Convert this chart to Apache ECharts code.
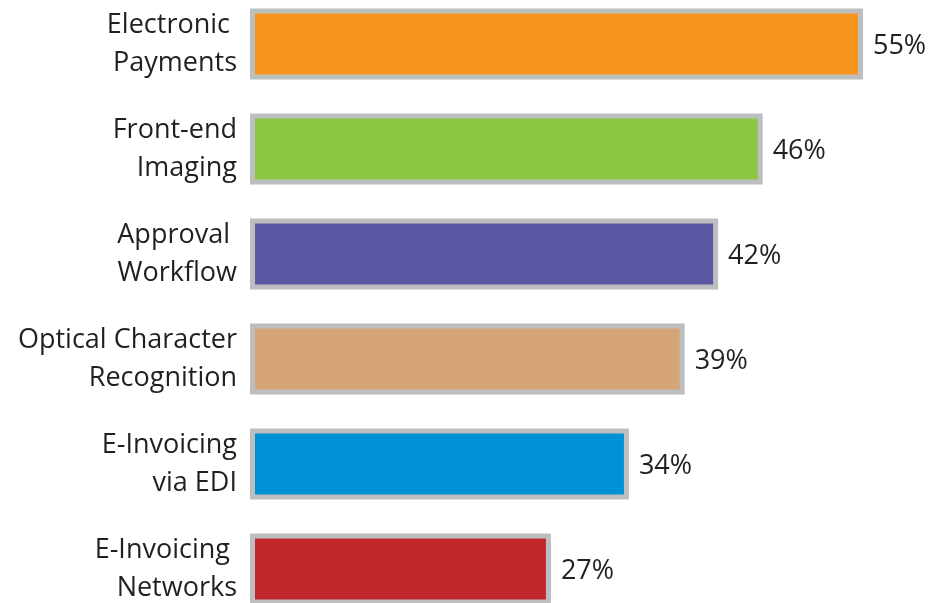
<!DOCTYPE html>
<html><head><meta charset="utf-8">
<script src="https://cdn.jsdelivr.net/npm/echarts@6/dist/echarts.min.js"></script>
<style>html,body{margin:0;padding:0;background:#fff}#c{width:934px;height:603px}</style>
</head><body><div id="c"></div>
<script>
const categories = ["Electronic \nPayments", "Front-end\nImaging", "Approval \nWorkflow", "Optical Character\nRecognition", "E-Invoicing\nvia EDI", "E-Invoicing \nNetworks"];
const values = [55, 46, 42, 39, 34, 27];
const colors = ["#f7941d", "#8dc63f", "#5b56a1", "#d5a577", "#0090d6", "#c1272d"];

const chart = echarts.init(document.getElementById('c'));
chart.setOption({
  backgroundColor: '#ffffff',
  animation: false,
  grid: { left: 250, top: -8.5, height: 630, width: 668.7, outerBoundsMode: 'none', containLabel: false },
  xAxis: { type: 'value', min: 0, max: 60, show: false },
  yAxis: {
    type: 'category', data: categories, inverse: true,
    axisLine: { show: false }, axisTick: { show: false },
    axisLabel: { margin: 13, fontSize: 27, lineHeight: 38, color: '#231f20', fontFamily: 'Open Sans', align: 'right', padding: [5, 0, 0, 0] }
  },
  series: [{
    type: 'bar',
    data: values.map((v, i) => ({ value: v, itemStyle: { color: colors[i] } })),
    barWidth: 71,
    itemStyle: { borderColor: '#bcbec0', borderWidth: 5 },
    label: { show: true, position: 'right', distance: 10, offset: [0, 2], formatter: '{c}%', fontSize: 27, color: '#231f20', fontFamily: 'Open Sans' }
  }]
});
</script></body></html>
